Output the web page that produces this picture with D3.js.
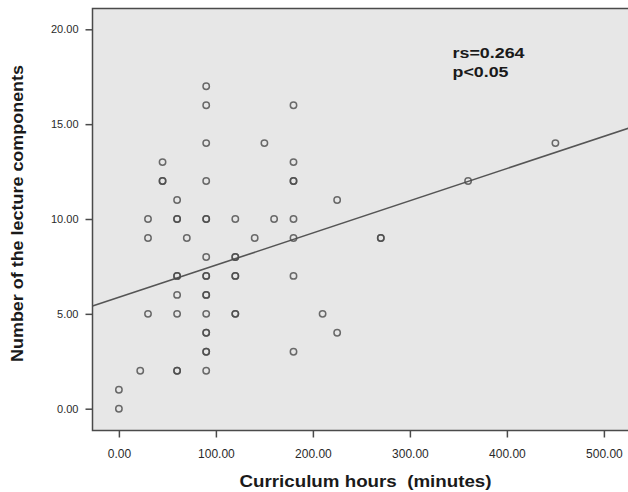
<!DOCTYPE html>
<html>
<head>
<meta charset="utf-8">
<script src="https://cdn.jsdelivr.net/npm/d3@7"></script>
<style>
  html, body { margin: 0; padding: 0; background: #fff; }
  svg { display: block; }
</style>
</head>
<body>
<svg id="chart" width="628" height="492"></svg>
<script>
// ---- data ----
const curriculumMinutes = [
  0, 0, 22, 60, 60, 90,
  90, 90, 180,
  90, 90, 225,
  30, 60, 90, 120, 120, 210,
  60, 90, 90,
  60, 60, 90, 90, 120, 120, 180,
  90, 120, 120,
  30, 70, 140, 180, 270, 270,
  30, 60, 60, 90, 90, 120, 160, 180,
  60, 225,
  45, 45, 90, 180, 180, 360,
  45, 180,
  90, 150, 450,
  90, 180,
  90
];
const lectureComponents = [
  0, 1, 2, 2, 2, 2,
  3, 3, 3,
  4, 4, 4,
  5, 5, 5, 5, 5, 5,
  6, 6, 6,
  7, 7, 7, 7, 7, 7, 7,
  8, 8, 8,
  9, 9, 9, 9, 9, 9,
  10, 10, 10, 10, 10, 10, 10, 10,
  11, 11,
  12, 12, 12, 12, 12, 12,
  13, 13,
  14, 14, 14,
  16, 16,
  17
];
const xTicks = [0, 100, 200, 300, 400, 500];
const yTicks = [0, 5, 10, 15, 20];
const fitIntercept = 5.87;
const fitSlope = 0.01698;
const annotationLines = ["rs=0.264", "p<0.05"];
const xTitle = "Curriculum hours  (minutes)";
const yTitle = "Number of the lecture components";

// ---- layout ----
const frame = { left: 92.5, top: 8.5, right: 640, bottom: 430.5 };
const svg = d3.select("#chart");

const x = d3.scaleLinear().domain([0, 500]).range([118.9, 603.9]);
const y = d3.scaleLinear().domain([0, 20]).range([408.7, 29.3]);

svg.append("defs").append("clipPath").attr("id", "plotclip")
  .append("rect")
  .attr("x", frame.left).attr("y", frame.top)
  .attr("width", frame.right - frame.left).attr("height", frame.bottom - frame.top);

// plot background
svg.append("rect")
  .attr("x", frame.left).attr("y", frame.top)
  .attr("width", frame.right - frame.left).attr("height", frame.bottom - frame.top)
  .attr("fill", "#e7e7e7")
  .attr("stroke", "#4a4a4a").attr("stroke-width", 1.5);

// axes
const fmt = d3.format(".2f");
const yAxis = svg.append("g")
  .attr("transform", `translate(${frame.left},0)`)
  .call(d3.axisLeft(y).tickValues(yTicks).tickFormat(fmt).tickSize(7).tickPadding(7));
const xAxis = svg.append("g")
  .attr("transform", `translate(0,${frame.bottom})`)
  .call(d3.axisBottom(x).tickValues(xTicks).tickFormat(fmt).tickSize(7).tickPadding(11.5));

[yAxis, xAxis].forEach(g => {
  g.select(".domain").remove();
  g.selectAll(".tick line").attr("stroke", "#4a4a4a").attr("stroke-width", 1.5);
  g.selectAll(".tick text")
    .attr("fill", "#2a2a2a")
    .attr("font-family", "'Liberation Sans', Arial, sans-serif");
});
yAxis.selectAll(".tick text").attr("font-size", 11);
xAxis.selectAll(".tick text").attr("font-size", 12);

// points
const pts = curriculumMinutes.map((v, i) => ({ x: v, y: lectureComponents[i] }));
const plot = svg.append("g").attr("clip-path", "url(#plotclip)");

// regression line
const xLo = x.invert(frame.left), xHi = x.invert(frame.right);
plot.append("line")
  .attr("x1", x(xLo)).attr("y1", y(fitIntercept + fitSlope * xLo))
  .attr("x2", x(xHi)).attr("y2", y(fitIntercept + fitSlope * xHi))
  .attr("stroke", "#555").attr("stroke-width", 1.6);

plot.selectAll("circle.pt").data(pts).join("circle")
  .attr("class", "pt")
  .attr("cx", d => x(d.x)).attr("cy", d => y(d.y))
  .attr("r", 3.2)
  .attr("fill", "none")
  .attr("stroke", "#4a4a4a")
  .attr("stroke-opacity", 0.8)
  .attr("stroke-width", 1.5);

// annotation
const ann = svg.append("g")
  .attr("font-family", "'Liberation Sans', Arial, sans-serif")
  .attr("font-weight", "bold").attr("font-size", 15.5).attr("fill", "#1a1a1a");
ann.append("text").attr("x", 452.5).attr("y", 57.5)
  .attr("textLength", 72).attr("lengthAdjust", "spacingAndGlyphs")
  .text(annotationLines[0]);
ann.append("text").attr("x", 452.5).attr("y", 76.5)
  .attr("textLength", 56).attr("lengthAdjust", "spacingAndGlyphs")
  .text(annotationLines[1]);

// axis titles
svg.append("text")
  .attr("x", 365.5).attr("y", 486.5)
  .attr("text-anchor", "middle")
  .attr("font-family", "'Liberation Sans', Arial, sans-serif")
  .attr("font-weight", "bold").attr("font-size", 16).attr("fill", "#1a1a1a")
  .style("white-space", "pre")
  .attr("textLength", 252).attr("lengthAdjust", "spacingAndGlyphs")
  .text(xTitle);

svg.append("text")
  .attr("transform", "translate(22.5,213.5) rotate(-90)")
  .attr("text-anchor", "middle")
  .attr("font-family", "'Liberation Sans', Arial, sans-serif")
  .attr("font-weight", "bold").attr("font-size", 16).attr("fill", "#1a1a1a")
  .attr("textLength", 297).attr("lengthAdjust", "spacingAndGlyphs")
  .text(yTitle);
</script>
</body>
</html>
